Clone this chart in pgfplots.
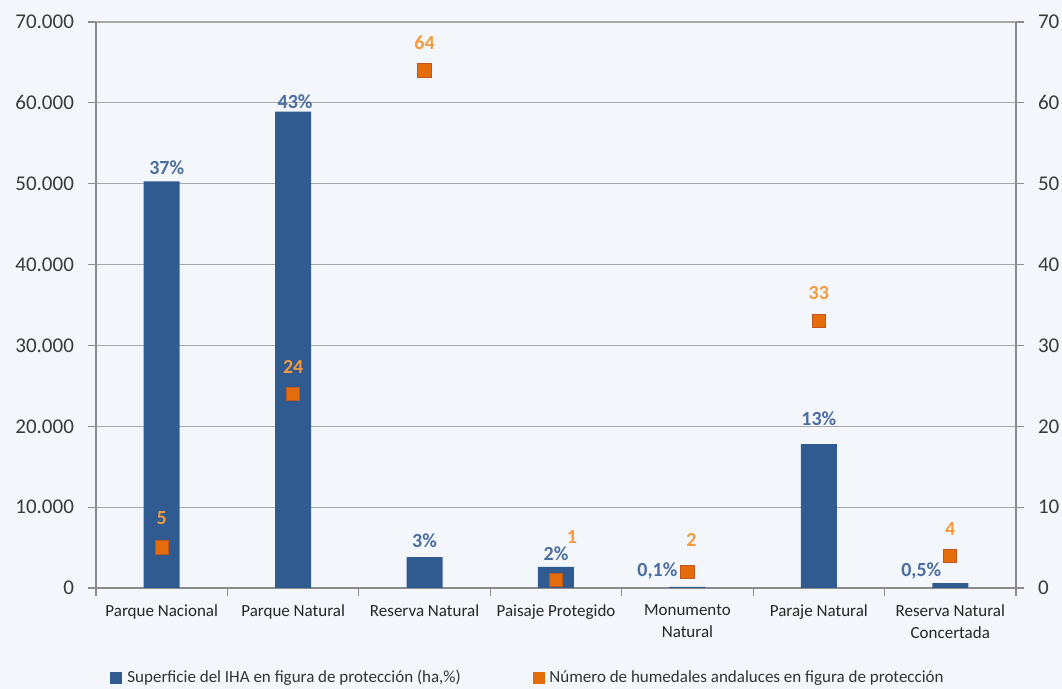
\documentclass[border=0pt]{standalone}
\usepackage{pgfplots}
\usepackage{pgfplotstable}
\usepackage{fontspec}
\setmainfont{Carlito}
\pgfplotsset{compat=1.18}

\definecolor{bgc}{HTML}{F3F6FA}
\definecolor{barblue}{HTML}{2F5B90}
\definecolor{lblblue}{HTML}{4B6DA0}
\definecolor{sqfill}{HTML}{E46C0A}
\definecolor{sqdraw}{HTML}{C0561E}
\definecolor{lblorange}{HTML}{F59A3C}
\definecolor{axgray}{HTML}{8C8C8C}
\definecolor{gridgray}{HTML}{A8A8A8}
\definecolor{ticktext}{HTML}{3A3A3A}

% superficie (ha) y etiqueta en %
\pgfplotstableread{
x  y      lab  dx    dy
0  50300  37   2.5   7
1  58900  43   1     5
2  3830   3    0     8
3  2600   2    0     6.5
4  150    0,1  -15   8
5  17800  13   0     12.5
6  600    0,5  -14.5 6
}\superficie

% numero de humedales
\pgfplotstableread{
x  y   lab dx  dy
0  5   5   0   14.5
1  24  24  0   13.5
2  64  64  0   14
3  1   1   8   21.5
4  2   2   2   16
5  33  33  0   14
6  4   4   0   13.5
}\humedales

\pgfplotsset{
  common/.style={
    at={(48pt,50.5pt)}, anchor=south west,
    scale only axis, width=460pt, height=283pt,
    xmin=-0.5, xmax=6.5,
    clip=false,
    tick align=outside,
    major tick length=4pt,
    axis line style={-, draw=axgray, line width=0.8pt},
    tick style={draw=axgray, line width=0.6pt},
    ticklabel style={text=ticktext, font=\fontsize{10.5}{12}\selectfont},
    /pgf/number format/.cd, 1000 sep={.}, assume math mode=true,
  },
}

\begin{document}
\begin{tikzpicture}
\fill[bgc] (0,0) rectangle (531pt,344.5pt);

\begin{axis}[
    common,
    ymin=0, ymax=70000,
    ybar, bar width=18pt,
    axis x line*=bottom, axis y line*=left,
    ytick={0,10000,...,70000},
    scaled y ticks=false,
    ymajorgrids,
    grid style={draw=gridgray, line width=0.6pt},
    xtick={-0.5,0.5,...,6.5},
    xticklabels={},
    extra x ticks={0,1,2,3,4,5,6},
    extra x tick labels={Parque Nacional, Parque Natural, Reserva Natural, Paisaje Protegido, Monumento\\Natural, Paraje Natural, Reserva Natural\\Concertada},
    extra x tick style={
      major tick length=0pt,
      xticklabel style={align=center, text=black!85, font=\fontsize{8.5}{11}\selectfont, yshift=-5pt},
    },
    yticklabel style={xshift=-3.5pt},
    point meta=explicit symbolic,
    nodes near coords={\pgfplotspointmeta\%},
    visualization depends on={\thisrow{dx} \as \dx},
    visualization depends on={\thisrow{dy} \as \dy},
    every node near coord/.append style={anchor=center, xshift=\dx pt, yshift=\dy pt,
      text=lblblue, font=\bfseries\fontsize{10}{12}\selectfont},
]
\addplot[fill=barblue, draw=none] table[x=x, y=y, meta=lab] {\superficie};
\end{axis}

\begin{axis}[
    common,
    ymin=0, ymax=70,
    axis x line=none, axis y line*=right,
    ytick={0,10,...,70},
    yticklabel style={xshift=3.5pt},
    point meta=explicit symbolic,
    nodes near coords={\pgfplotspointmeta},
    visualization depends on={\thisrow{dx} \as \dx},
    visualization depends on={\thisrow{dy} \as \dy},
    every node near coord/.append style={anchor=center, xshift=\dx pt, yshift=\dy pt,
      text=lblorange, font=\bfseries\fontsize{10}{12}\selectfont},
]
\addplot[only marks, mark=square*, mark size=3.3pt,
  mark options={fill=sqfill, draw=sqdraw, line width=0.5pt}]
  table[x=x, y=y, meta=lab] {\humedales};
\end{axis}

% leyenda
\fill[barblue] (55pt,2.5pt) rectangle (61pt,8.5pt);
\node[anchor=west, inner sep=0pt, text=black!80, font=\fontsize{8.5}{10}\selectfont]
  at (63.5pt,5.5pt) {Superficie del IHA en figura de protección (ha,\%)};
\fill[sqfill] (266.5pt,2.5pt) rectangle (272.5pt,8.5pt);
\node[anchor=west, inner sep=0pt, text=black!80, font=\fontsize{8.5}{10}\selectfont]
  at (274.5pt,5.5pt) {Número de humedales andaluces en figura de protección};

\pgfresetboundingbox
\useasboundingbox (0,0) rectangle (531pt,344.5pt);
\end{tikzpicture}
\end{document}
